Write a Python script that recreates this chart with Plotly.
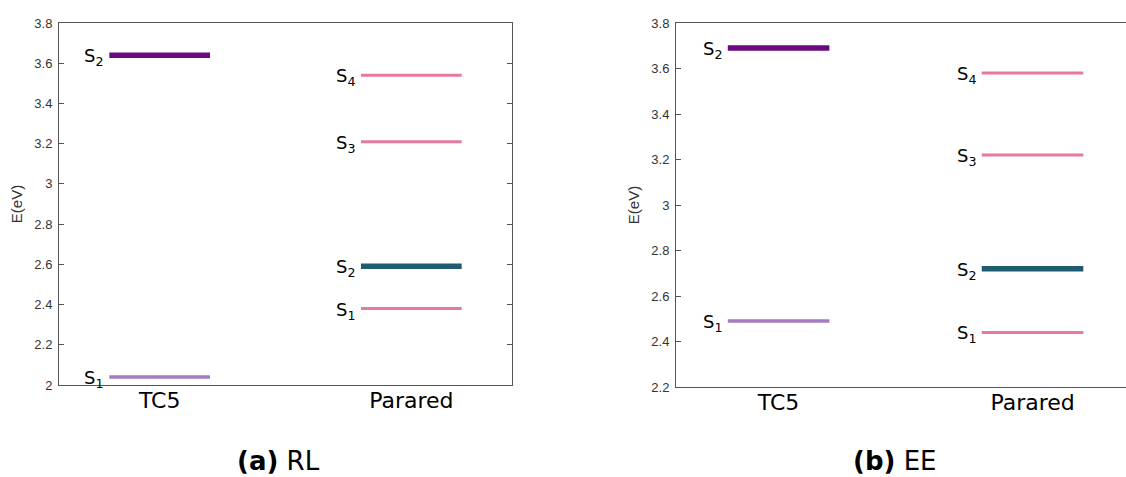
import plotly.graph_objects as go

# Excitation energies (eV) for each panel
states_tc5 = ["S<sub>1</sub>", "S<sub>2</sub>"]
states_parared = ["S<sub>1</sub>", "S<sub>2</sub>", "S<sub>3</sub>", "S<sub>4</sub>"]

rl_tc5 = [2.04, 3.64]
rl_parared = [2.38, 2.59, 3.21, 3.54]
ee_tc5 = [2.49, 3.69]
ee_parared = [2.44, 2.72, 3.22, 3.58]

categories = ["TC5", "Parared"]
captions = ["<b>(a)</b> RL", "<b>(b)</b> EE"]

# level styles: (color, width)
tc5_styles = [("#a57bbf", 3.5), ("#6a0a7e", 5.5)]
parared_styles = [("#e7789f", 3), ("#1e5b6e", 5.5), ("#e7789f", 3), ("#e7789f", 3)]

HALF = 0.2
W, H = 1126, 477

fig = go.Figure()
annotations = []


def add_levels(energies, names, styles, center, xa, ya):
    for e, name, (col, lw) in zip(energies, names, styles):
        fig.add_trace(go.Scatter(
            x=[center - HALF, center + HALF], y=[e, e],
            mode="lines", line=dict(color=col, width=lw),
            xaxis=xa, yaxis=ya, showlegend=False, hoverinfo="skip"))
        annotations.append(dict(
            x=center - HALF, y=e, xref=xa, yref=ya,
            text=name, showarrow=False, xanchor="right", yanchor="middle",
            xshift=-4, yshift=-2,
            font=dict(family="DejaVu Sans", size=18, color="black")))


add_levels(rl_tc5, states_tc5, tc5_styles, 0, "x", "y")
add_levels(rl_parared, states_parared, parared_styles, 1, "x", "y")
add_levels(ee_tc5, states_tc5, tc5_styles, 0, "x2", "y2")
add_levels(ee_parared, states_parared, parared_styles, 1, "x2", "y2")

axis_col = "#555555"
tick_font = dict(family="Liberation Sans", size=13, color="#333333")
cat_font = dict(family="DejaVu Sans", size=22, color="black")


def xaxis(domain, rng, anchor):
    return dict(domain=domain, range=rng, anchor=anchor, tickvals=[0, 1],
                ticktext=categories, showgrid=False, zeroline=False,
                showline=True, linecolor=axis_col, linewidth=1, mirror=True,
                ticks="", tickfont=cat_font, ticklabelstandoff=-4,
                automargin=False, fixedrange=True)


def yaxis(domain, rng, mirror, anchor):
    return dict(domain=domain, range=rng, dtick=0.2, anchor=anchor,
                showgrid=False, zeroline=False, showline=True, linecolor=axis_col,
                linewidth=1, mirror=mirror, ticks="inside", ticklen=5,
                tickcolor=axis_col, tickfont=tick_font, ticklabelstandoff=3,
                automargin=False,
                title=dict(text="E(eV)", standoff=8,
                           font=dict(family="Liberation Sans", size=15, color="#333333")),
                fixedrange=True)


fig.update_layout(
    width=W, height=H,
    margin=dict(l=0, r=0, t=0, b=0, autoexpand=False),
    paper_bgcolor="white", plot_bgcolor="white",
    xaxis=xaxis([59 / W, 512 / W], [-0.4, 1.4], "y"),
    yaxis=yaxis([(H - 385) / H, (H - 23) / H], [2, 3.8], "ticks", "x"),
    xaxis2=xaxis([676 / W, 1], [-0.404, 1.368], "y2"),
    yaxis2=yaxis([(H - 387) / H, (H - 23) / H], [2.2, 3.8], False, "x2"),
)

for cx, cap in zip([278 / W, 895 / W], captions):
    annotations.append(dict(
        x=cx, y=0, xref="paper", yref="paper", text=cap,
        showarrow=False, xanchor="center", yanchor="bottom", borderpad=0,
        font=dict(family="DejaVu Sans", size=26, color="black")))

fig.update_layout(annotations=annotations)
fig.write_html("out.html")
